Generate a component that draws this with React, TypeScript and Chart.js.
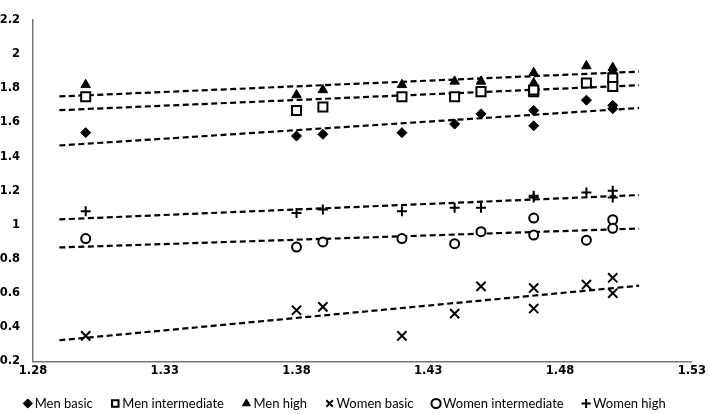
import React, { useEffect, useRef } from "react";
import { Chart, registerables } from "chart.js";

Chart.register(...registerables);

const xValues = [1.3, 1.38, 1.39, 1.42, 1.44, 1.45, 1.47, 1.47, 1.49, 1.5, 1.5];
const menBasic = [1.54, 1.52, 1.53, 1.54, 1.59, 1.65, 1.67, 1.58, 1.73, 1.7, 1.68];
const menIntermediate = [1.75, 1.67, 1.69, 1.75, 1.75, 1.78, 1.78, 1.79, 1.83, 1.86, 1.81];
const menHigh = [1.82, 1.76, 1.79, 1.82, 1.84, 1.84, 1.89, 1.83, 1.93, 1.92, 1.9];
const womenBasic = [0.35, 0.5, 0.52, 0.35, 0.48, 0.64, 0.63, 0.51, 0.65, 0.69, 0.6];
const womenIntermediate = [0.92, 0.87, 0.9, 0.92, 0.89, 0.96, 1.04, 0.94, 0.91, 1.03, 0.98];
const womenHigh = [1.08, 1.07, 1.09, 1.08, 1.1, 1.1, 1.17, 1.16, 1.19, 1.2, 1.16];

const seriesNames = [
  "Men basic",
  "Men intermediate",
  "Men high",
  "Women basic",
  "Women intermediate",
  "Women high",
];
const seriesValues = [menBasic, menIntermediate, menHigh, womenBasic, womenIntermediate, womenHigh];

// trendline extent (Excel forecast backward/forward)
const trendRange = [1.29, 1.51];

const xTicks = [1.28, 1.33, 1.38, 1.43, 1.48, 1.53];
const yTicks = [0.2, 0.4, 0.6, 0.8, 1, 1.2, 1.4, 1.6, 1.8, 2, 2.2];

const markerStyles = [
  { pointStyle: "rectRot", radius: 5, bg: "#000", bw: 1 },
  { pointStyle: "rect", radius: 6.4, bg: "#fff", bw: 2 },
  { pointStyle: "triangle", radius: 5.5, bg: "#000", bw: 1 },
  { pointStyle: "crossRot", radius: 6.5, bg: "#000", bw: 2 },
  { pointStyle: "circle", radius: 4.5, bg: "#fff", bw: 2 },
  { pointStyle: "cross", radius: 5, bg: "#000", bw: 2 },
];

function linearFit(xs: number[], ys: number[]) {
  const n = xs.length;
  const mx = xs.reduce((a, b) => a + b, 0) / n;
  const my = ys.reduce((a, b) => a + b, 0) / n;
  let sxy = 0;
  let sxx = 0;
  for (let i = 0; i < n; i++) {
    sxy += (xs[i] - mx) * (ys[i] - my);
    sxx += (xs[i] - mx) * (xs[i] - mx);
  }
  const slope = sxy / sxx;
  return (x: number) => my + slope * (x - mx);
}

const LEGEND_FONT = "Lato";
const TICK_FONT = "DejaVu Sans";

const tickFont = { family: TICK_FONT, size: 11.5, weight: "bold", style: "normal", lineHeight: 1.2 };

export default function App() {
  const ref = useRef<HTMLCanvasElement | null>(null);

  useEffect(() => {
    let chart: Chart | null = null;
    let cancelled = false;

    const build = () => {
      if (cancelled || !ref.current) return;
      (Chart.defaults as any).font.family = TICK_FONT;
      (Chart.defaults as any).font.size = 11.5;
      (Chart.defaults as any).font.weight = "bold";
      (Chart.defaults as any).color = "#000";

      const scatterSets = seriesNames.map((name, i) => {
        const st = markerStyles[i];
        return {
          type: "scatter" as const,
          label: name,
          data: xValues.map((x, j) => ({ x, y: seriesValues[i][j] })),
          pointStyle: st.pointStyle,
          pointRadius: st.radius,
          pointHoverRadius: st.radius,
          pointBackgroundColor: st.bg,
          backgroundColor: st.bg,
          pointBorderColor: "#000",
          borderColor: "#000",
          pointBorderWidth: st.bw,
          borderWidth: st.bw,
          showLine: false,
        };
      });
      const trendSets = seriesValues.map((vals) => {
        const f = linearFit(xValues, vals);
        return {
          type: "scatter" as const,
          label: "trend",
          data: trendRange.map((x) => ({ x, y: f(x) })),
          showLine: true,
          pointRadius: 0,
          borderColor: "#000",
          borderWidth: 2.2,
          borderDash: [6, 3.5],
          fill: false,
        };
      });

      chart = new Chart(ref.current, {
        type: "scatter",
        data: { datasets: [...scatterSets, ...trendSets] as any },
        options: {
          animation: false,
          responsive: false,
          font: tickFont,
          layout: { padding: { left: 0, right: 16, top: 0, bottom: -6 } },
          plugins: {
            tooltip: { enabled: false },
            legend: {
              position: "bottom",
              labels: {
                usePointStyle: true,
                boxHeight: 6.5,
                boxWidth: 1,
                padding: 22,
                color: "#000",
                font: { family: LEGEND_FONT, size: 13, weight: "normal" },
                filter: (item: any) => item.text !== "trend",
              },
            },
          },
          scales: {
            x: {
              type: "linear",
              min: 1.28,
              max: 1.53,
              afterBuildTicks: (s: any) => {
                s.ticks = xTicks.map((v) => ({ value: v }));
              },
              afterFit: (s: any) => {
                s.height = 13.5;
              },
              grid: { display: false, drawTicks: false },
              border: { display: true, color: "#767676", width: 1.5 },
              ticks: {
                padding: 3,
                color: "#000",
                font: () => tickFont,
                maxRotation: 0,
                autoSkip: false,
                callback: (v: any) => Number(v).toFixed(2),
              },
            },
            y: {
              type: "linear",
              min: 0.2,
              max: 2.2,
              afterBuildTicks: (s: any) => {
                s.ticks = yTicks.map((v) => ({ value: v }));
              },
              afterFit: (s: any) => {
                s.width = 33;
              },
              grid: { display: false, drawTicks: false },
              border: { display: true, color: "#767676", width: 1.5 },
              ticks: {
                padding: 13,
                color: "#000",
                font: () => tickFont,
                autoSkip: false,
                callback: (v: any) => String(parseFloat(Number(v).toFixed(1))),
              },
            },
          },
        } as any,
      });
    };

    const fonts: any = (document as any).fonts;
    if (fonts && fonts.load) {
      Promise.all([
        fonts.load(`13px ${LEGEND_FONT}`),
        fonts.load(`bold 12px "${TICK_FONT}"`),
      ])
        .catch(() => null)
        .then(build);
    } else {
      build();
    }

    return () => {
      cancelled = true;
      if (chart) chart.destroy();
    };
  }, []);

  return (
    <div style={{ position: "fixed", left: 0, top: 0, width: 709, height: 414, background: "#fff" }}>
      <canvas ref={ref} width={709} height={414} style={{ width: 709, height: 414 }} />
    </div>
  );
}
